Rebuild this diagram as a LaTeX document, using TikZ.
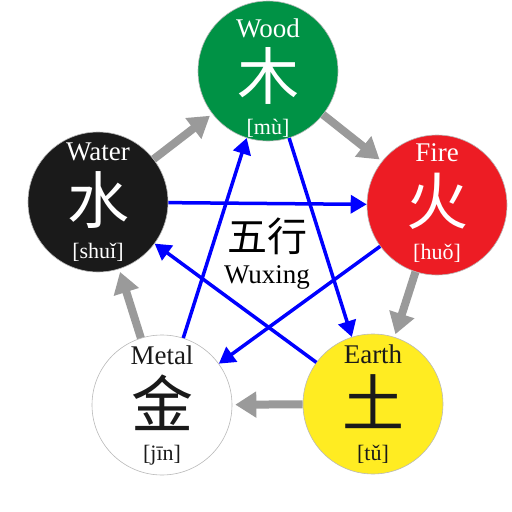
\documentclass[tikz,border=0pt]{standalone}
\usepackage{fontspec}
\setmainfont{Liberation Serif}
\newfontfamily\hanfont{Noto Sans CJK SC}
\usetikzlibrary{arrows.meta}
\definecolor{woodgreen}{HTML}{009245}
\definecolor{firered}{HTML}{ED1C24}
\definecolor{earthyellow}{HTML}{FFEC22}
\definecolor{waterblack}{HTML}{1A1A1A}
\definecolor{metalwhite}{HTML}{FFFFFF}
\definecolor{shenggrey}{HTML}{9A9A9A}
\tikzset{
  phase/.style={circle, minimum size=140pt, inner sep=0pt, draw=gray!55, line width=0.6pt},
  han/.style={font=\hanfont\fontsize{62}{62}\selectfont},
  title/.style={font=\fontsize{27}{27}\selectfont},
  pinyin/.style={font=\fontsize{22}{22}\selectfont},
  sheng/.style={shenggrey, line width=8pt, -{Triangle[length=21pt,width=25pt]}, shorten >=3pt},
  ke/.style={blue, line width=3.5pt, -{Triangle[length=16pt,width=18pt]}}
}
\begin{document}
\begin{tikzpicture}[x=1pt, y=1pt]
\useasboundingbox (0,0) rectangle (512,-512);
% the five phases
\foreach \name/\x/\y/\dy/\col/\ink/\eng/\hz/\py in {
  wood/268/71/-7/woodgreen/white/Wood/木/mù,
  fire/437/205/2/firered/white/Fire/火/huǒ,
  earth/373/404/0/earthyellow/waterblack/Earth/土/tǔ,
  metal/162/405/0/metalwhite/waterblack/Metal/金/jīn,
  water/98/202/0/waterblack/white/Water/水/shuǐ}{
  \node[phase, fill=\col] (\name) at (\x,-\y) {};
  \node[han, text=\ink] (\name-hz) at ([yshift=\dy+2]\name.center) {\hz};
  \node[title, text=\ink] (\name-eng) at ([yshift=\dy+50]\name.center) {\eng};
  \node[pinyin, text=\ink] (\name-py) at ([yshift=\dy-50]\name.center) {[\py]};
}
% generating cycle
\draw[sheng] (wood) -- (fire);
\draw[sheng] (fire) -- (earth);
\draw[sheng] (earth) -- (metal);
\draw[sheng] (metal) -- (water);
\draw[sheng] (water) -- (wood);
% overcoming cycle
\draw[ke] (wood) -- (earth);
\draw[ke] (earth) -- (water);
\draw[ke] (water) -- (fire);
\draw[ke] (fire) -- (metal);
\draw[ke] (metal) -- (wood);
\node[font=\hanfont\fontsize{40}{40}\selectfont] (wuxing) at (267,-236) {五行};
\node[title] (wuxing-latin) at (267,-277) {Wuxing};
\end{tikzpicture}
\end{document}
